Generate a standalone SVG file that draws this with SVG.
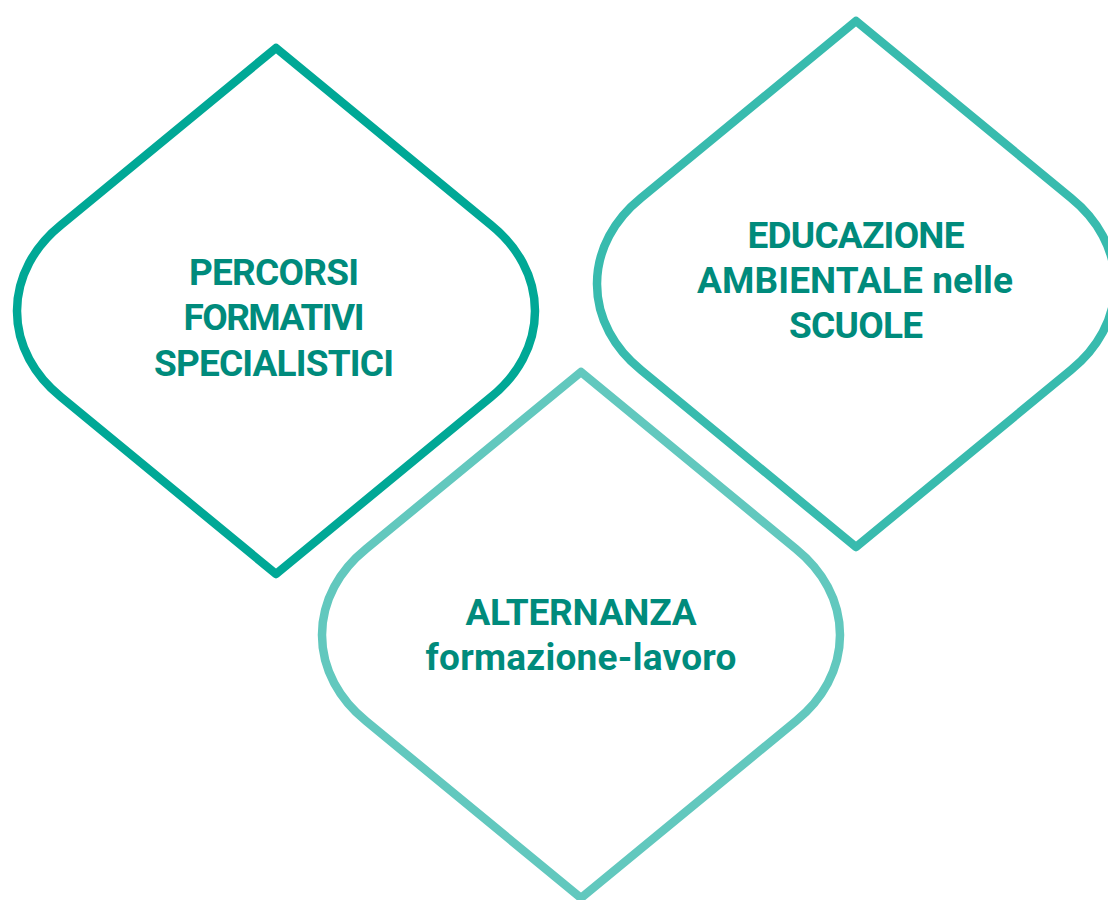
<svg xmlns="http://www.w3.org/2000/svg" width="1108" height="900" viewBox="0 0 1108 900">
<defs>
<style>
.shape{fill:#ffffff;stroke-width:8.5;stroke-linejoin:round}
.lbl{font-family:Roboto,"Liberation Sans",sans-serif;font-weight:700;font-size:37px;fill:#008b7c;text-anchor:middle}
</style>
<path id="drop" d="M0,-263 L-215,-86 C-241,-65 -259,-35 -259,0 C-259,35 -241,65 -215,86 L0,263 L215,86 C241,65 259,35 259,0 C259,-35 241,-65 215,-86 Z"/>
</defs>
<rect width="1108" height="900" fill="#ffffff"/>
<g id="connectors"></g>
<g id="node-percorsi">
<use href="#drop" class="shape" stroke="#00a896" transform="translate(276,311)"/>
<text class="lbl" x="274" y="285" textLength="170">PERCORSI</text>
<text class="lbl" x="274" y="330" textLength="181">FORMATIVI</text>
<text class="lbl" x="274" y="376" textLength="240">SPECIALISTICI</text>
</g>
<g id="node-educazione">
<use href="#drop" class="shape" stroke="#38bbae" transform="translate(856,284)"/>
<text class="lbl" x="856" y="248" textLength="217">EDUCAZIONE</text>
<text class="lbl" x="855" y="293" textLength="316">AMBIENTALE nelle</text>
<text class="lbl" x="856" y="338" textLength="134">SCUOLE</text>
</g>
<g id="node-alternanza">
<use href="#drop" class="shape" stroke="#62c8be" transform="translate(581,635)"/>
<text class="lbl" x="581" y="625" textLength="231">ALTERNANZA</text>
<text class="lbl" x="581" y="670" textLength="311">formazione-lavoro</text>
</g>
</svg>
